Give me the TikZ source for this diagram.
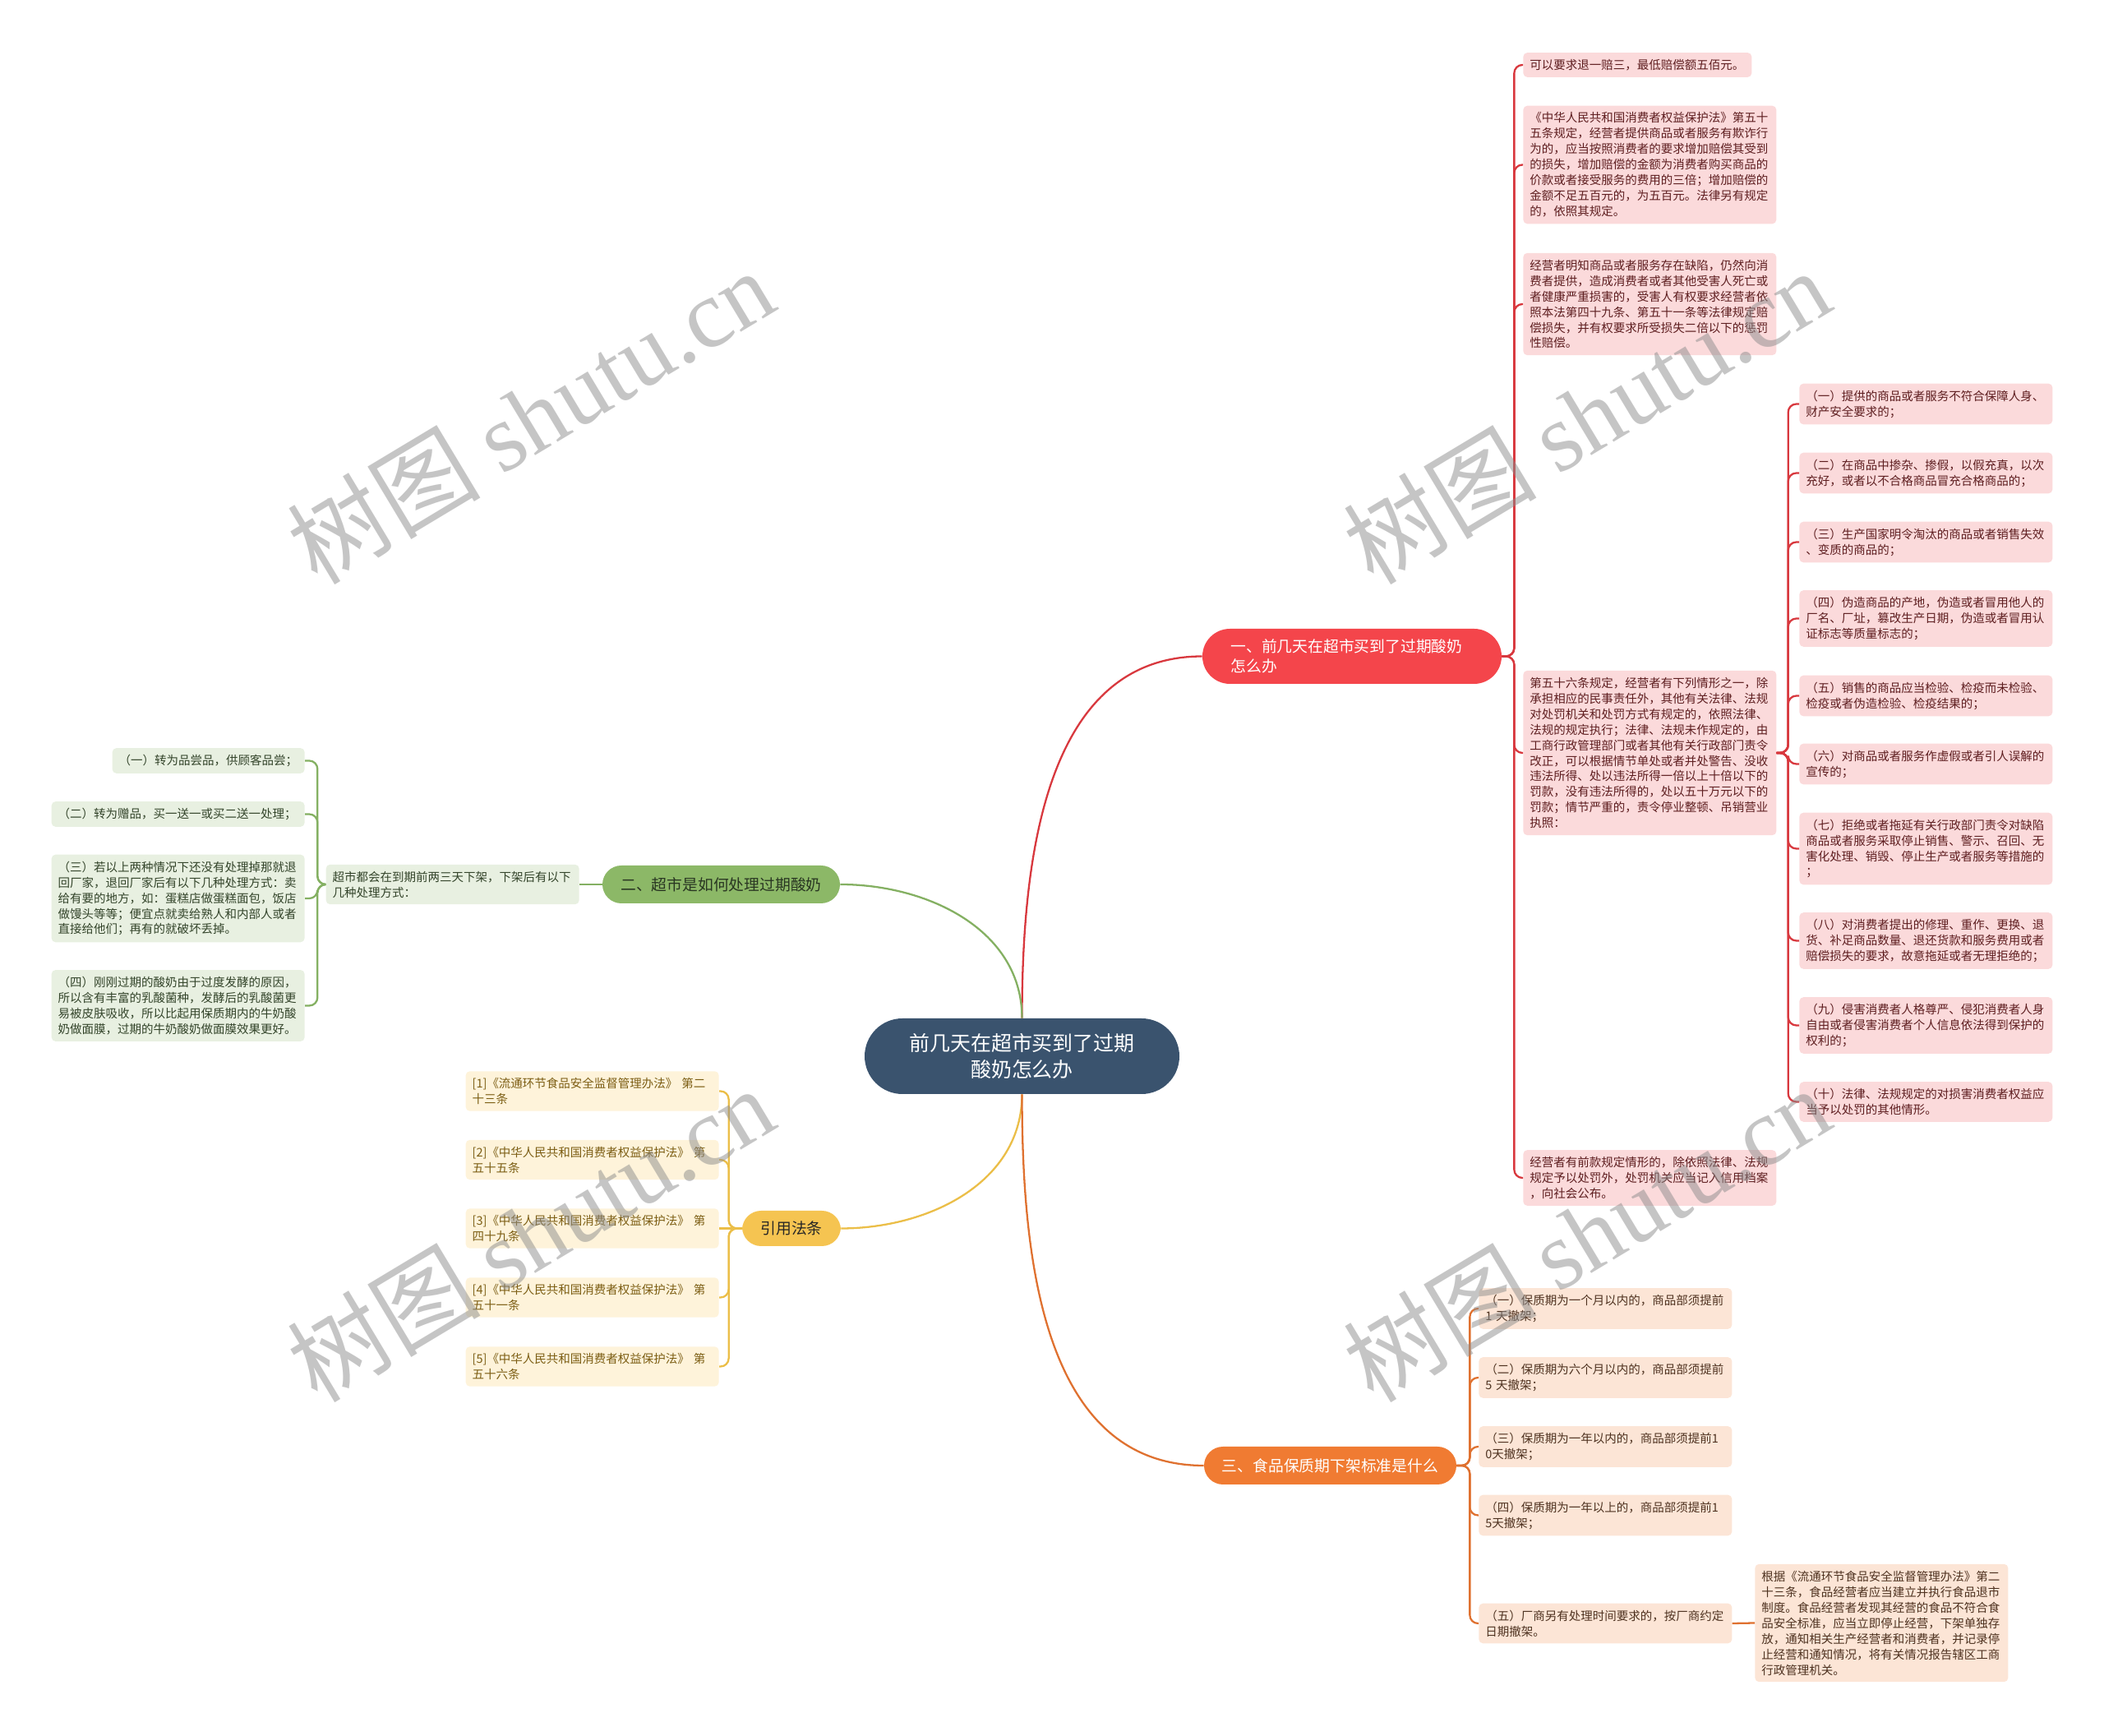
\documentclass[tikz,border=0pt]{standalone}
\usepackage{fontspec}
\setmainfont{Noto Sans CJK SC}
\newfontfamily\wmfont{Liberation Serif}
\definecolor{rootblue}{HTML}{3A536E}
\definecolor{redmain}{HTML}{F4454B}
\definecolor{redline}{HTML}{D8383E}
\definecolor{redsoft}{HTML}{FBDADB}
\definecolor{redtext}{HTML}{5E1E20}
\definecolor{greenmain}{HTML}{8CB867}
\definecolor{greenline}{HTML}{84B062}
\definecolor{greensoft}{HTML}{E8F0E1}
\definecolor{greentext}{HTML}{33442A}
\definecolor{yellowmain}{HTML}{F5C451}
\definecolor{yellowline}{HTML}{EBBE48}
\definecolor{yellowsoft}{HTML}{FEF3DA}
\definecolor{yellowtext}{HTML}{7C5E14}
\definecolor{orangemain}{HTML}{F07B32}
\definecolor{orangeline}{HTML}{DF7130}
\definecolor{orangesoft}{HTML}{FCE5D6}
\definecolor{orangetext}{HTML}{4E3220}

\begin{document}
\begin{tikzpicture}
	\tikzstyle{leaf} = [rounded corners=0.1cm, inner xsep=0.16cm, inner ysep=0.16cm, text width=5.84cm, align=left, font=\fontsize{8.25}{10.8}\selectfont]
	\tikzstyle{redleaf} = [leaf, fill=redsoft, text=redtext, anchor=west]
	\tikzstyle{greenleaf} = [leaf, fill=greensoft, text=greentext, anchor=east]
	\tikzstyle{yellowleaf} = [leaf, fill=yellowsoft, text=yellowtext, anchor=east]
	\tikzstyle{orangeleaf} = [leaf, fill=orangesoft, text=orangetext, anchor=west]
	\tikzstyle{branch} = [inner xsep=0.2cm, inner ysep=0cm, minimum height=0.92cm, rounded corners=0.46cm, align=center, font=\fontsize{10.7}{13.3}\selectfont]
	\tikzstyle{redwire} = [draw=redline, line width=1.3pt, rounded corners=0.2cm]
	\tikzstyle{greenwire} = [draw=greenline, line width=1.3pt, rounded corners=0.2cm]
	\tikzstyle{yellowwire} = [draw=yellowline, line width=1.3pt, rounded corners=0.2cm]
	\tikzstyle{orangewire} = [draw=orangeline, line width=1.3pt, rounded corners=0.2cm]
	\tikzstyle{wmark} = [rotate=31, text=black!45, opacity=0.5, font=\fontsize{67}{67}\selectfont]
	\useasboundingbox (0, 0) rectangle (51.20, 42.22);
	\node [fill=rootblue, text=white, rounded corners=0.92cm, minimum width=7.66cm, minimum height=1.84cm, align=center, font=\fontsize{14.2}{18.2}\selectfont] (root) at (24.87, 16.52) {前几天在超市买到了过期\\酸奶怎么办};
	\node [branch, fill=redmain, text=white, text width=5.9cm, inner xsep=0.69cm, minimum height=1.34cm, rounded corners=0.67cm, align=left] (red) at (32.90, 26.25) {一、前几天在超市买到了过期酸奶\\怎么办};
	\node [branch, fill=greenmain, text=greentext!80!black, minimum width=5.78cm] (green) at (17.55, 20.70) {二、超市是如何处理过期酸奶};
	\node [branch, fill=yellowmain, text=black!85, minimum width=2.40cm, minimum height=0.86cm] (yellow) at (19.26, 12.33) {引用法条};
	\node [branch, fill=orangemain, text=white, minimum width=6.14cm] (orange) at (32.37, 6.56) {三、食品保质期下架标准是什么};
	\node [redleaf, text width=5.24cm] (r1) at (37.06, 40.64) {可以要求退一赔三，最低赔偿额五佰元。};
	\node [redleaf] (r2) at (37.06, 38.21) {《中华人民共和国消费者权益保护法》第五十\\五条规定，经营者提供商品或者服务有欺诈行\\为的，应当按照消费者的要求增加赔偿其受到\\的损失，增加赔偿的金额为消费者购买商品的\\价款或者接受服务的费用的三倍；增加赔偿的\\金额不足五百元的，为五百元。法律另有规定\\的，依照其规定。};
	\node [redleaf] (r3) at (37.06, 34.82) {经营者明知商品或者服务存在缺陷，仍然向消\\费者提供，造成消费者或者其他受害人死亡或\\者健康严重损害的，受害人有权要求经营者依\\照本法第四十九条、第五十一条等法律规定赔\\偿损失，并有权要求所受损失二倍以下的惩罚\\性赔偿。};
	\node [redleaf] (r4) at (37.06, 23.90) {第五十六条规定，经营者有下列情形之一，除\\承担相应的民事责任外，其他有关法律、法规\\对处罚机关和处罚方式有规定的，依照法律、\\法规的规定执行；法律、法规未作规定的，由\\工商行政管理部门或者其他有关行政部门责令\\改正，可以根据情节单处或者并处警告、没收\\违法所得、处以违法所得一倍以上十倍以下的\\罚款，没有违法所得的，处以五十万元以下的\\罚款；情节严重的，责令停业整顿、吊销营业\\执照：};
	\node [redleaf] (r5) at (37.06, 13.56) {经营者有前款规定情形的，除依照法律、法规\\规定予以处罚外，处罚机关应当记入信用档案\\，向社会公布。};
	\node [redleaf] (s1) at (43.78, 32.39) {（一）提供的商品或者服务不符合保障人身、\\财产安全要求的；};
	\node [redleaf] (s2) at (43.78, 30.71) {（二）在商品中掺杂、掺假，以假充真，以次\\充好，或者以不合格商品冒充合格商品的；};
	\node [redleaf] (s3) at (43.78, 29.03) {（三）生产国家明令淘汰的商品或者销售失效\\、变质的商品的；};
	\node [redleaf] (s4) at (43.78, 27.17) {（四）伪造商品的产地，伪造或者冒用他人的\\厂名、厂址，篡改生产日期，伪造或者冒用认\\证标志等质量标志的；};
	\node [redleaf] (s5) at (43.78, 25.29) {（五）销售的商品应当检验、检疫而未检验、\\检疫或者伪造检验、检疫结果的；};
	\node [redleaf] (s6) at (43.78, 23.63) {（六）对商品或者服务作虚假或者引人误解的\\宣传的；};
	\node [redleaf] (s7) at (43.78, 21.57) {（七）拒绝或者拖延有关行政部门责令对缺陷\\商品或者服务采取停止销售、警示、召回、无\\害化处理、销毁、停止生产或者服务等措施的\\；};
	\node [redleaf] (s8) at (43.78, 19.33) {（八）对消费者提出的修理、重作、更换、退\\货、补足商品数量、退还货款和服务费用或者\\赔偿损失的要求，故意拖延或者无理拒绝的；};
	\node [redleaf] (s9) at (43.78, 17.27) {（九）侵害消费者人格尊严、侵犯消费者人身\\自由或者侵害消费者个人信息依法得到保护的\\权利的；};
	\node [redleaf] (s10) at (43.78, 15.41) {（十）法律、法规规定的对损害消费者权益应\\当予以处罚的其他情形。};
	\node [greenleaf] (g1) at (14.10, 20.70) {超市都会在到期前两三天下架，下架后有以下\\几种处理方式：};
	\node [greenleaf, text width=4.36cm] (g2) at (7.42, 23.71) {（一）转为品尝品，供顾客品尝；};
	\node [greenleaf] (g3) at (7.42, 22.41) {（二）转为赠品，买一送一或买二送一处理；};
	\node [greenleaf] (g4) at (7.42, 20.36) {（三）若以上两种情况下还没有处理掉那就退\\回厂家，退回厂家后有以下几种处理方式：卖\\给有要的地方，如：蛋糕店做蛋糕面包，饭店\\做馒头等等；便宜点就卖给熟人和内部人或者\\直接给他们；再有的就破坏丢掉。};
	\node [greenleaf] (g5) at (7.42, 17.75) {（四）刚刚过期的酸奶由于过度发酵的原因，\\所以含有丰富的乳酸菌种，发酵后的乳酸菌更\\易被皮肤吸收，所以比起用保质期内的牛奶酸\\奶做面膜，过期的牛奶酸奶做面膜效果更好。};
	\node [yellowleaf] (y1) at (17.50, 15.67) {[1]《流通环节食品安全监督管理办法》 第二\\十三条};
	\node [yellowleaf] (y2) at (17.50, 14.00) {[2]《中华人民共和国消费者权益保护法》 第\\五十五条};
	\node [yellowleaf] (y3) at (17.50, 12.33) {[3]《中华人民共和国消费者权益保护法》 第\\四十九条};
	\node [yellowleaf] (y4) at (17.50, 10.65) {[4]《中华人民共和国消费者权益保护法》 第\\五十一条};
	\node [yellowleaf] (y5) at (17.50, 8.97) {[5]《中华人民共和国消费者权益保护法》 第\\五十六条};
	\node [orangeleaf] (o1) at (35.98, 10.38) {（一）保质期为一个月以内的，商品部须提前\\1 天撤架；};
	\node [orangeleaf] (o2) at (35.98, 8.70) {（二）保质期为六个月以内的，商品部须提前\\5 天撤架；};
	\node [orangeleaf] (o3) at (35.98, 7.02) {（三）保质期为一年以内的，商品部须提前1\\0天撤架；};
	\node [orangeleaf] (o4) at (35.98, 5.35) {（四）保质期为一年以上的，商品部须提前1\\5天撤架；};
	\node [orangeleaf] (o5) at (35.98, 2.72) {（五）厂商另有处理时间要求的，按厂商约定\\日期撤架。};
	\node [orangeleaf] (o6) at (42.70, 2.73) {根据《流通环节食品安全监督管理办法》第二\\十三条，食品经营者应当建立并执行食品退市\\制度。食品经营者发现其经营的食品不符合食\\品安全标准，应当立即停止经营，下架单独存\\放，通知相关生产经营者和消费者，并记录停\\止经营和通知情况，将有关情况报告辖区工商\\行政管理机关。};
	\draw [redwire] (root.north) to [out=90, in=180] (red.west);
	\draw [greenwire] (root.north) to [out=90, in=0] (green.east);
	\draw [yellowwire] (root.south) to [out=-90, in=0] (yellow.east);
	\draw [orangewire] (root.south) to [out=-90, in=180] (orange.west);
	\draw [redwire] (red.east) -- ++(0.3, 0) |- (r1.west);
	\draw [redwire] (red.east) -- ++(0.3, 0) |- (r2.west);
	\draw [redwire] (red.east) -- ++(0.3, 0) |- (r3.west);
	\draw [redwire] (red.east) -- ++(0.3, 0) |- (r4.west);
	\draw [redwire] (red.east) -- ++(0.3, 0) |- (r5.west);
	\draw [redwire] (r4.east) -- ++(0.28, 0) |- (s1.west);
	\draw [redwire] (r4.east) -- ++(0.28, 0) |- (s2.west);
	\draw [redwire] (r4.east) -- ++(0.28, 0) |- (s3.west);
	\draw [redwire] (r4.east) -- ++(0.28, 0) |- (s4.west);
	\draw [redwire] (r4.east) -- ++(0.28, 0) |- (s5.west);
	\draw [redwire] (r4.east) -- ++(0.28, 0) |- (s6.west);
	\draw [redwire] (r4.east) -- ++(0.28, 0) |- (s7.west);
	\draw [redwire] (r4.east) -- ++(0.28, 0) |- (s8.west);
	\draw [redwire] (r4.east) -- ++(0.28, 0) |- (s9.west);
	\draw [redwire] (r4.east) -- ++(0.28, 0) |- (s10.west);
	\draw [greenwire] (green.west) -- (g1.east);
	\draw [greenwire] (g1.west) -- ++(-0.2, 0) |- (g2.east);
	\draw [greenwire] (g1.west) -- ++(-0.2, 0) |- (g3.east);
	\draw [greenwire] (g1.west) -- ++(-0.2, 0) |- (g4.east);
	\draw [greenwire] (g1.west) -- ++(-0.2, 0) |- (g5.east);
	\draw [yellowwire] (yellow.west) -- ++(-0.32, 0) |- (y1.east);
	\draw [yellowwire] (yellow.west) -- ++(-0.32, 0) |- (y2.east);
	\draw [yellowwire] (yellow.west) -- (y3.east);
	\draw [yellowwire] (yellow.west) -- ++(-0.32, 0) |- (y4.east);
	\draw [yellowwire] (yellow.west) -- ++(-0.32, 0) |- (y5.east);
	\draw [orangewire] (orange.east) -- ++(0.32, 0) |- (o1.west);
	\draw [orangewire] (orange.east) -- ++(0.32, 0) |- (o2.west);
	\draw [orangewire] (orange.east) -- ++(0.32, 0) |- (o3.west);
	\draw [orangewire] (orange.east) -- ++(0.32, 0) |- (o4.west);
	\draw [orangewire] (orange.east) -- ++(0.32, 0) |- (o5.west);
	\draw [orangewire] (o5.east) -- (o6.west);
	\node [wmark] (w1) at (12.90, 32.10) {树图 {\wmfont shutu.cn}};
	\node [wmark] (w2) at (38.60, 32.10) {树图 {\wmfont shutu.cn}};
	\node [wmark] (w3) at (12.90, 12.20) {树图 {\wmfont shutu.cn}};
	\node [wmark] (w4) at (38.60, 12.20) {树图 {\wmfont shutu.cn}};
\end{tikzpicture}
\end{document}
